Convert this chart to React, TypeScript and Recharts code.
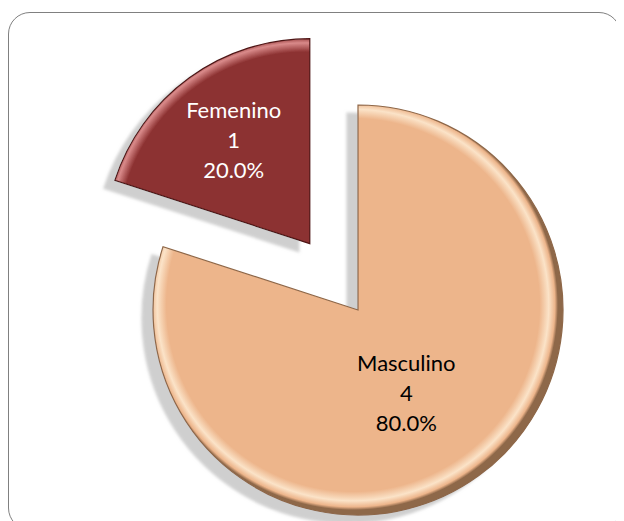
import { Cell, Pie, PieChart } from "recharts";

const categories = ["Femenino", "Masculino"];
const counts = [1, 4];
const percentLabels = ["20.0%", "80.0%"];

const colors = ["#8C3131", "#EDB58B"];
const rims = ["#D98A8A", "#FBE3C8"];
const edges = ["#4E1414", "#8E6748"];
const textColors = ["#FFFFFF", "#000000"];

const data = categories.map((name, i) => ({ name, value: counts[i] }));

const WIDTH = 616;
const HEIGHT = 513;
const CX = 345;
const CY = 297;
const RADIUS = 205;
const EXPLODE = 82;
const START = 90;
const END = 450;

// offset the exploded slice along its mid angle
const total = counts.reduce((a, b) => a + b, 0);
const femMid = START + ((counts[0] / total) * (END - START)) / 2;
const rad = (Math.PI / 180) * femMid;
const femCx = CX + EXPLODE * Math.cos(rad);
const femCy = CY - EXPLODE * Math.sin(rad);

const labelFactor = [0.59, 0.505];
const labelTurn = [0, -5];

function makeLabel(only: number) {
  return (props: any) => {
    const { cx, cy, midAngle, outerRadius, index } = props;
    if (index !== only) return <g />;
    const r = outerRadius * labelFactor[index];
    const a = (Math.PI / 180) * (midAngle + labelTurn[index]);
    const x = cx + r * Math.cos(a) - 5;
    const y = cy - r * Math.sin(a) - 7;
    return (
      <text
        x={x}
        y={y - 30}
        fill={textColors[index]}
        textAnchor="middle"
        dominantBaseline="central"
        fontFamily="Lato, 'Open Sans', sans-serif"
        fontSize={22}
      >
        <tspan x={x} dy={0}>
          {categories[index]}
        </tspan>
        <tspan x={x} dy={30}>
          {counts[index]}
        </tspan>
        <tspan x={x} dy={30}>
          {percentLabels[index]}
        </tspan>
      </text>
    );
  };
}

function Gradient({ id, cx, cy, i }: { id: string; cx: number; cy: number; i: number }) {
  return (
    <radialGradient id={id} gradientUnits="userSpaceOnUse" cx={cx} cy={cy} r={RADIUS}>
      <stop offset="0%" stopColor={colors[i]} />
      <stop offset="91%" stopColor={colors[i]} />
      <stop offset="95.5%" stopColor={rims[i]} />
      <stop offset="98.5%" stopColor={colors[i]} />
      <stop offset="100%" stopColor={edges[i]} />
    </radialGradient>
  );
}

export default function App() {
  return (
    <div style={{ position: "relative", width: WIDTH, height: HEIGHT }}>
      <div
        style={{
          position: "absolute",
          left: 0,
          top: 4,
          width: 611,
          height: 516,
          border: "1.5px solid #808080",
          borderRadius: 22,
        }}
      />
      <div style={{ position: "absolute", left: 0, top: 0 }}>
        <PieChart width={WIDTH} height={HEIGHT}>
          <defs>
            <filter id="shadow" x="-20%" y="-20%" width="140%" height="140%">
              <feDropShadow dx={-11} dy={8} stdDeviation={1.5} floodColor="#a8a8a8" floodOpacity={0.55} />
            </filter>
            <Gradient id="g0" cx={femCx} cy={femCy} i={0} />
            <Gradient id="g1" cx={CX} cy={CY} i={1} />
          </defs>
          <Pie
            data={data}
            dataKey="value"
            nameKey="name"
            cx={femCx}
            cy={femCy}
            outerRadius={RADIUS}
            startAngle={START}
            endAngle={END}
            labelLine={false}
            label={makeLabel(0)}
            isAnimationActive={false}
          >
            {data.map((d, i) => (
              <Cell
                key={d.name}
                fill={i === 0 ? "url(#g0)" : "none"}
                stroke={i === 0 ? edges[0] : "none"}
                strokeWidth={1.2}
                filter={i === 0 ? "url(#shadow)" : undefined}
              />
            ))}
          </Pie>
          <Pie
            data={data}
            dataKey="value"
            nameKey="name"
            cx={CX}
            cy={CY}
            outerRadius={RADIUS}
            startAngle={START}
            endAngle={END}
            labelLine={false}
            label={makeLabel(1)}
            isAnimationActive={false}
          >
            {data.map((d, i) => (
              <Cell
                key={d.name}
                fill={i === 1 ? "url(#g1)" : "none"}
                stroke={i === 1 ? edges[1] : "none"}
                strokeWidth={1.2}
                filter={i === 1 ? "url(#shadow)" : undefined}
              />
            ))}
          </Pie>
        </PieChart>
      </div>
    </div>
  );
}
